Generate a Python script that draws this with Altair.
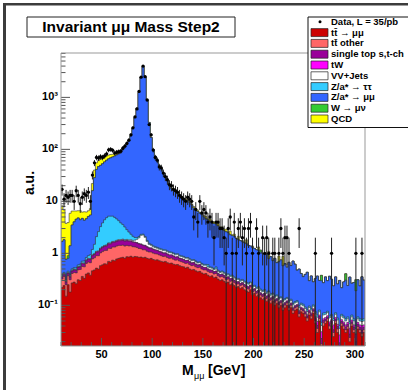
import altair as alt
import pandas as pd
import numpy as np

# ---------------- data (2 GeV bins from 10 to 310 GeV) ----------------
BIN_LOW = 10
BIN_W = 2

tt_mumu = [
    0.22, 0.24, 0.15, 0.25, 0.18, 0.27, 0.28, 0.26, 0.31, 0.30,
    0.36, 0.33, 0.40, 0.42, 0.38, 0.46, 0.48, 0.52, 0.50, 0.58,
    0.60, 0.63, 0.62, 0.70, 0.68, 0.74, 0.72, 0.78, 0.80, 0.82,
    0.84, 0.80, 0.86, 0.85, 0.88, 0.84, 0.87, 0.86, 0.84, 0.85,
    0.82, 0.84, 0.80, 0.78, 0.80, 0.76, 0.74, 0.75, 0.72, 0.70,
    0.68, 0.70, 0.66, 0.64, 0.65, 0.62, 0.60, 0.61, 0.58, 0.56,
    0.55, 0.52, 0.54, 0.50, 0.48, 0.49, 0.46, 0.44, 0.45, 0.42,
    0.40, 0.41, 0.38, 0.36, 0.37, 0.34, 0.35, 0.32, 0.30, 0.31,
    0.29, 0.27, 0.28, 0.25, 0.26, 0.24, 0.22, 0.23, 0.21, 0.22,
    0.20, 0.19, 0.18, 0.20, 0.16, 0.17, 0.15, 0.16, 0.14, 0.13,
    0.14, 0.12, 0.13, 0.11, 0.12, 0.10, 0.11, 0.09, 0.10, 0.08,
    0.09, 0.10, 0.08, 0.09, 0.07, 0.08, 0.085, 0.06, 0.075, 0.07,
    0.06, 0.05, 0.065, 0.055, 0.07, 0.045, 0.03, 0.05, 0.012, 0.04,
    0.045, 0.05, 0.035, 0.04, 0.025, 0.045, 0.03, 0.01, 0.04, 0.035,
    0.03, 0.035, 0.02, 0.04, 0.03, 0.012, 0.035, 0.03, 0.025, 0.03,
]
tt_other = [
    0.10, 0.12, 0.10, 0.12, 0.13, 0.14, 0.15, 0.16, 0.17, 0.19,
    0.20, 0.22, 0.24, 0.26, 0.28, 0.32, 0.34, 0.38, 0.40, 0.44,
    0.48, 0.50, 0.52, 0.55, 0.56, 0.58, 0.60, 0.60, 0.62, 0.60,
    0.60, 0.58, 0.56, 0.54, 0.52, 0.50, 0.46, 0.44, 0.40, 0.38,
    0.35, 0.33, 0.30, 0.28, 0.26, 0.25, 0.24, 0.22, 0.21, 0.20,
    0.19, 0.18, 0.17, 0.16, 0.16, 0.15, 0.14, 0.14, 0.13, 0.13,
    0.12, 0.12, 0.11, 0.11, 0.10, 0.10, 0.09, 0.09, 0.09, 0.08,
    0.08, 0.07, 0.07, 0.07, 0.06, 0.06, 0.06, 0.05, 0.05, 0.05,
    0.05, 0.04, 0.04, 0.04, 0.04, 0.035, 0.035, 0.03, 0.03, 0.03,
    0.03, 0.025, 0.025, 0.025, 0.02, 0.02, 0.02, 0.02, 0.018, 0.018,
    0.016, 0.016, 0.015, 0.015, 0.014, 0.014, 0.013, 0.013, 0.012, 0.012,
    0.011, 0.011, 0.010, 0.010, 0.010, 0.009, 0.009, 0.009, 0.008, 0.008,
    0.008, 0.007, 0.007, 0.007, 0.007, 0.006, 0.006, 0.006, 0.006, 0.006,
    0.005, 0.005, 0.005, 0.005, 0.005, 0.005, 0.005, 0.005, 0.005, 0.005,
    0.004, 0.004, 0.004, 0.004, 0.004, 0.004, 0.004, 0.004, 0.004, 0.004,
]
single_top = [
    0.03, 0.035, 0.03, 0.04, 0.04, 0.045, 0.05, 0.05, 0.055, 0.06,
    0.07, 0.075, 0.08, 0.09, 0.10, 0.12, 0.13, 0.15, 0.17, 0.19,
    0.21, 0.23, 0.25, 0.27, 0.28, 0.30, 0.31, 0.32, 0.33, 0.33,
    0.34, 0.33, 0.33, 0.32, 0.31, 0.30, 0.29, 0.28, 0.27, 0.26,
    0.25, 0.23, 0.22, 0.20, 0.19, 0.18, 0.17, 0.16, 0.15, 0.15,
    0.14, 0.13, 0.13, 0.12, 0.11, 0.11, 0.10, 0.10, 0.09, 0.09,
    0.085, 0.08, 0.08, 0.075, 0.07, 0.07, 0.065, 0.06, 0.06, 0.055,
    0.05, 0.05, 0.045, 0.045, 0.04, 0.04, 0.04, 0.035, 0.035, 0.035,
    0.03, 0.03, 0.03, 0.028, 0.026, 0.025, 0.024, 0.022, 0.02, 0.02,
    0.019, 0.018, 0.017, 0.016, 0.015, 0.015, 0.014, 0.013, 0.013, 0.012,
    0.012, 0.011, 0.011, 0.010, 0.010, 0.009, 0.009, 0.009, 0.008, 0.008,
    0.008, 0.007, 0.007, 0.007, 0.006, 0.006, 0.006, 0.006, 0.005, 0.005,
    0.005, 0.005, 0.005, 0.005, 0.005, 0.005, 0.005, 0.005, 0.005, 0.005,
    0.004, 0.004, 0.004, 0.004, 0.004, 0.004, 0.004, 0.004, 0.004, 0.004,
    0.004, 0.004, 0.004, 0.004, 0.004, 0.004, 0.004, 0.004, 0.004, 0.004,
]
tw = [
    0.005, 0.005, 0.006, 0.006, 0.007, 0.007, 0.008, 0.008, 0.009, 0.010,
    0.011, 0.012, 0.013, 0.014, 0.015, 0.017, 0.018, 0.020, 0.022, 0.024,
    0.026, 0.028, 0.030, 0.032, 0.034, 0.035, 0.036, 0.037, 0.038, 0.038,
    0.038, 0.038, 0.037, 0.036, 0.035, 0.034, 0.033, 0.032, 0.031, 0.030,
    0.029, 0.028, 0.027, 0.026, 0.025, 0.024, 0.023, 0.022, 0.021, 0.020,
    0.019, 0.018, 0.018, 0.017, 0.016, 0.016, 0.015, 0.015, 0.014, 0.014,
    0.013, 0.013, 0.012, 0.012, 0.011, 0.011, 0.010, 0.010, 0.010, 0.009,
    0.009, 0.009, 0.008, 0.008, 0.008, 0.008, 0.007, 0.007, 0.007, 0.007,
    0.007, 0.006, 0.006, 0.012, 0.006, 0.006, 0.006, 0.005, 0.005, 0.005,
    0.005, 0.005, 0.010, 0.005, 0.005, 0.005, 0.004, 0.004, 0.004, 0.004,
    0.004, 0.004, 0.008, 0.004, 0.004, 0.004, 0.004, 0.004, 0.004, 0.004,
    0.004, 0.004, 0.004, 0.004, 0.004, 0.004, 0.004, 0.004, 0.004, 0.004,
    0.004, 0.004, 0.004, 0.004, 0.004, 0.004, 0.008, 0.004, 0.008, 0.004,
    0.004, 0.004, 0.004, 0.004, 0.008, 0.004, 0.004, 0.008, 0.004, 0.004,
    0.004, 0.004, 0.008, 0.004, 0.004, 0.008, 0.004, 0.004, 0.008, 0.004,
]
vv_jets = [
    0.010, 0.010, 0.010, 0.012, 0.012, 0.012, 0.013, 0.013, 0.014, 0.014,
    0.015, 0.016, 0.017, 0.018, 0.020, 0.020, 0.022, 0.024, 0.026, 0.028,
    0.030, 0.032, 0.034, 0.036, 0.038, 0.040, 0.042, 0.045, 0.048, 0.050,
    0.055, 0.060, 0.065, 0.070, 0.080, 0.10, 0.14, 0.25, 0.45, 0.70,
    0.80, 0.60, 0.35, 0.20, 0.15, 0.12, 0.11, 0.10, 0.10, 0.10,
    0.10, 0.09, 0.09, 0.09, 0.08, 0.08, 0.08, 0.08, 0.07, 0.07,
    0.07, 0.07, 0.06, 0.06, 0.06, 0.06, 0.06, 0.05, 0.05, 0.05,
    0.05, 0.05, 0.045, 0.045, 0.04, 0.04, 0.04, 0.04, 0.035, 0.035,
    0.035, 0.03, 0.03, 0.03, 0.03, 0.028, 0.028, 0.026, 0.026, 0.025,
    0.025, 0.024, 0.023, 0.022, 0.022, 0.021, 0.020, 0.020, 0.020, 0.019,
    0.018, 0.018, 0.017, 0.017, 0.016, 0.016, 0.015, 0.015, 0.015, 0.014,
    0.014, 0.013, 0.013, 0.013, 0.012, 0.012, 0.012, 0.011, 0.011, 0.011,
    0.010, 0.010, 0.010, 0.010, 0.010, 0.010, 0.010, 0.010, 0.010, 0.010,
    0.009, 0.009, 0.009, 0.009, 0.009, 0.009, 0.009, 0.009, 0.009, 0.009,
    0.008, 0.008, 0.008, 0.008, 0.008, 0.008, 0.008, 0.008, 0.008, 0.008,
]
z_tautau = [
    0.02, 0.02, 0.02, 0.025, 0.025, 0.03, 0.03, 0.035, 0.04, 0.045,
    0.05, 0.06, 0.08, 0.10, 0.15, 0.25, 0.50, 1.00, 1.50, 2.00,
    2.5, 3.0, 3.4, 3.6, 3.6, 3.5, 3.2, 2.8, 2.4, 2.0,
    1.7, 1.4, 1.0, 0.75, 0.50, 0.35, 0.22, 0.15, 0.12, 0.10,
    0.09, 0.08, 0.07, 0.07, 0.06, 0.06, 0.06, 0.05, 0.05, 0.05,
    0.05, 0.05, 0.045, 0.045, 0.04, 0.04, 0.04, 0.04, 0.035, 0.035,
    0.035, 0.03, 0.03, 0.03, 0.03, 0.028, 0.028, 0.026, 0.026, 0.025,
    0.025, 0.024, 0.06, 0.023, 0.022, 0.022, 0.05, 0.021, 0.02, 0.02,
    0.02, 0.019, 0.018, 0.018, 0.017, 0.017, 0.016, 0.016, 0.015, 0.015,
    0.014, 0.014, 0.013, 0.013, 0.012, 0.012, 0.011, 0.011, 0.010, 0.010,
    0.010, 0.009, 0.009, 0.009, 0.008, 0.008, 0.008, 0.008, 0.007, 0.007,
    0.007, 0.007, 0.007, 0.007, 0.007, 0.007, 0.007, 0.007, 0.007, 0.007,
    0.006, 0.006, 0.006, 0.006, 0.006, 0.006, 0.006, 0.006, 0.006, 0.006,
    0.005, 0.005, 0.005, 0.005, 0.005, 0.005, 0.005, 0.005, 0.005, 0.005,
    0.005, 0.005, 0.005, 0.005, 0.005, 0.005, 0.005, 0.005, 0.005, 0.005,
]
z_mumu = [
    1.3, 1.4, 0.45, 0.35, 1.0, 3.0, 3.5, 4.0, 4.2, 3.8,
    4.0, 3.6, 3.8, 4.2, 4.5, 14.8, 27, 39, 44, 46,
    49, 53, 57, 60.5, 63.5, 66.5, 69.5, 73.5, 78, 84,
    95.5, 109, 125, 145, 180, 256, 406, 617, 1245, 2447,
    3997, 2500, 898, 328, 168, 98, 72, 59, 47, 41,
    33, 27.5, 23.5, 18.5, 16.5, 15, 14.5, 13, 11.8, 10.8,
    10.3, 9.8, 9.6, 8.6, 7.8, 6.7, 6.1, 5.7, 5.2, 4.9,
    4.4, 4.0, 3.8, 3.6, 3.4, 3.2, 3.1, 2.9, 2.6, 2.5,
    2.3, 2.2, 2.1, 1.9, 1.8, 1.8, 1.6, 1.5, 1.45, 1.35,
    1.3, 1.25, 1.15, 1.1, 1.05, 1.0, 0.95, 0.9, 0.85, 0.8,
    0.75, 0.78, 0.6, 0.7, 0.55, 0.65, 0.5, 0.55, 0.6, 0.45,
    0.5, 0.4, 0.55, 0.45, 0.6, 0.5, 0.35, 0.4, 0.3, 0.25,
    0.3, 0.35, 0.2, 0.28, 0.18, 0.25, 0.3, 0.22, 0.25, 0.2,
    0.28, 0.22, 0.3, 0.25, 0.18, 0.28, 0.2, 0.26, 0.15, 0.22,
    0.25, 0.18, 0.3, 0.2, 0.22, 0.15, 0.25, 0.18, 0.3, 0.25,
]
w_munu = [
    0, 0, 0, 0.1, 0, 0, 0, 0, 0, 0,
    0, 0, 0, 0, 0, 0, 0, 0, 0, 0,
    0, 0, 0, 0, 0, 0, 0, 0, 0, 0,
    0, 0, 0, 0, 0, 0, 0, 0, 0, 0,
    0, 0, 0, 0, 0, 0, 0, 0, 0, 0,
    0, 0, 0, 0, 0, 0, 0, 0, 0, 0,
    0, 0, 0, 0, 0, 0, 0, 0, 0, 0,
    0, 0, 0, 0, 0, 0, 0, 0, 0, 0,
    0, 0, 0, 0, 0, 0, 0, 0, 0, 0,
    0, 0, 0, 0, 0, 0, 0, 0, 0.1, 0,
    0, 0, 0, 0, 0, 0, 0, 0, 0, 0,
    0, 0, 0, 0, 0, 0, 0, 0, 0, 0,
    0, 0, 0, 0, 0, 0, 0, 0, 0.08, 0,
    0, 0, 0, 0, 0, 0, 0, 0, 0, 0,
    0.1, 0, 0, 0, 0, 0.12, 0, 0, 0, 0,
]
qcd = [
    6.5, 5.0, 3.0, 3.0, 4.5, 3.0, 2.5, 2.0, 1.8, 2.2,
    1.5, 2.0, 1.6, 1.5, 1.8, 6.0, 11.5, 14, 14, 15,
    14, 13, 13, 12, 11, 9, 8, 6, 5, 4,
    3, 3, 2, 2, 2, 1, 1, 0, 0, 0,
    0, 0, 0, 0, 0, 0, 1, 1, 1, 1,
    1, 0.8, 0.5, 1.0, 0.8, 1.0, 0.5, 0.8, 0.5, 0.6,
    0.4, 0.6, 0.3, 0.5, 0.3, 0.5, 0.3, 0.4, 0.2, 0.3,
    0.3, 0.5, 0.2, 0.4, 0.2, 0.3, 0.2, 0.4, 0.2, 0.3,
    0.2, 0.3, 0.1, 0.4, 0.1, 0.2, 0, 0.3, 0, 0.1,
    0, 0.3, 0, 0, 0.1, 0, 0, 0.2, 0, 0,
    0, 0, 0.3, 0, 0, 0, 0, 0.2, 0, 0.3,
    0, 0, 0, 0, 0, 0, 0, 0, 0, 0,
    0, 0, 0, 0, 0, 0, 0, 0, 0, 0,
    0, 0, 0, 0, 0, 0, 0, 0, 0, 0,
    0, 0, 0, 0, 0, 0, 0, 0, 0, 0,
]
data_counts = [
    17, 11, 13, 12, 13, 13, 10, 16, 13, 9,
    12, 14, 13, 15, 10, 32, 55, 70, 68, 72,
    70, 75, 82, 98, 100, 96, 85, 88, 90, 92,
    105, 115, 130, 150, 190, 260, 420, 600, 1300, 2450,
    4000, 2500, 890, 300, 190, 97, 70, 62, 46, 44,
    35, 30, 26, 21, 20, 17, 16, 15, 13, 12,
    11, 10, 12, 11, 10, 5, 7, 4, 10, 6,
    7, 6, 4, 5, 4, 2, 4, 4, 3, 3,
    2, 1, 3, 5, 1, 4, 1, 3, 4, 2,
    3, 1, 3, 4, 1, 0, 3, 1, 0, 2,
    1, 2, 1, 0, 1, 1, 0, 1, 3, 1,
    2, 2, 1, 0, 0, 0, 0, 3, 0, 0,
    0, 0, 0, 0, 0, 1, 0, 0, 0, 0,
    0, 0, 0, 1, 0, 0, 0, 0, 0, 0,
    0, 0, 0, 0, 0, 1, 0, 0, 1, 0,
]

layer_names = ["tt̄ → μμ", "tt̄ other", "single top s,t-ch", "tW", "VV+Jets",
               "Z/a* → ττ", "Z/a* → μμ", "W → μν", "QCD"]
layer_colors = ["#cc0000", "#ff6666", "#990099", "#ff00ff", "#ffffff",
                "#33ccff", "#3366ff", "#33cc33", "#ffff00"]
data_label = "Data, L = 35/pb"
title_text = "Invariant μμ Mass Step2"
x_tick_labels = [50, 100, 150, 200, 250, 300]
y_tick_values = [0.1, 1, 10, 100, 1000]
y_tick_texts = ["10⁻¹", "1", "10", "10²", "10³"]

# ---------------- layout ----------------
W, H = 304, 293
PAD = {"left": 61, "top": 53, "right": 43, "bottom": 44}
XMIN, XMAX = 10, 310
YMIN, YMAX = 0.0165, 7140
FONT = "Liberation Sans"

comps = np.array([tt_mumu, tt_other, single_top, tw, vv_jets, z_tautau,
                  z_mumu, w_munu, qcd], dtype=float)
cum = np.cumsum(comps, axis=0)
nb = comps.shape[1]
edges = [BIN_LOW + BIN_W * i for i in range(nb + 1)]

xs = alt.Scale(domain=[XMIN, XMAX], nice=False, zero=False)
ys = alt.Scale(type="log", domain=[YMIN, YMAX], nice=False)
XE = dict(scale=xs, axis=None)
YE = dict(scale=ys, axis=None)

layers = []
for k in reversed(range(len(layer_names))):
    vals = list(cum[k]) + [cum[k][-1]]
    dfk = pd.DataFrame({"x": edges, "y": vals, "base": [YMIN] * len(edges)})
    layers.append(
        alt.Chart(dfk).mark_area(interpolate="step-after", fill=layer_colors[k], fillOpacity=1,
                                 stroke="#333333", strokeWidth=0.6, clip=True)
        .encode(x=alt.X("x:Q", **XE), y=alt.Y("y:Q", **YE), y2=alt.Y2("base:Q"))
    )

# ticks (ROOT style, inside the frame)
xt_major = [v for v in range(XMIN, XMAX + 1, 10) if v % 50 == 0]
xt_minor = [v for v in range(XMIN, XMAX + 1, 10) if v % 50 != 0]
layers.append(alt.Chart(pd.DataFrame({"x": xt_major})).mark_rule(color="#555", strokeWidth=1)
              .encode(x=alt.X("x:Q", **XE), y=alt.value(H), y2=alt.value(H - 8)))
layers.append(alt.Chart(pd.DataFrame({"x": xt_minor})).mark_rule(color="#555", strokeWidth=1)
              .encode(x=alt.X("x:Q", **XE), y=alt.value(H), y2=alt.value(H - 4)))
yt_minor = []
for dec in [0.01, 0.1, 1, 10, 100, 1000]:
    for m in range(2, 10):
        v = dec * m
        if YMIN <= v <= YMAX:
            yt_minor.append(v)
layers.append(alt.Chart(pd.DataFrame({"y": y_tick_values})).mark_rule(color="#555", strokeWidth=1)
              .encode(y=alt.Y("y:Q", **YE), x=alt.value(0), x2=alt.value(9)))
layers.append(alt.Chart(pd.DataFrame({"y": yt_minor})).mark_rule(color="#555", strokeWidth=1)
              .encode(y=alt.Y("y:Q", **YE), x=alt.value(0), x2=alt.value(4.5)))

# tick labels
layers.append(alt.Chart(pd.DataFrame({"x": x_tick_labels, "t": [str(v) for v in x_tick_labels]}))
              .mark_text(font=FONT, fontWeight="bold", fontSize=11, baseline="alphabetic",
                         align="center", color="black")
              .encode(x=alt.X("x:Q", **XE), y=alt.value(H + 12), text="t:N"))
layers.append(alt.Chart(pd.DataFrame({"y": y_tick_values, "t": y_tick_texts}))
              .mark_text(font=FONT, fontWeight="bold", fontSize=11, baseline="middle",
                         align="right", color="black")
              .encode(y=alt.Y("y:Q", **YE), x=alt.value(-3), text="t:N"))

# data points with error bars
d = np.array(data_counts, dtype=float)
mask = d > 0
centers = np.array([BIN_LOW + BIN_W * i + BIN_W / 2 for i in range(nb)])
ddf = pd.DataFrame({"x": centers[mask], "y": d[mask]})
ddf["lo"] = np.maximum(ddf["y"] - np.sqrt(ddf["y"]), YMIN)
ddf["hi"] = ddf["y"] + np.sqrt(ddf["y"])
layers.append(alt.Chart(ddf).mark_rule(color="#222", strokeWidth=1, clip=True)
              .encode(x=alt.X("x:Q", **XE), y=alt.Y("lo:Q", **YE), y2="hi:Q"))
layers.append(alt.Chart(ddf).mark_circle(color="black", size=11, opacity=1, clip=True)
              .encode(x=alt.X("x:Q", **XE), y=alt.Y("y:Q", **YE)))

one = pd.DataFrame({"a": [0]})
L, T = PAD["left"], PAD["top"]

# frame lines
for enc in [dict(x=alt.value(0), x2=alt.value(W), y=alt.value(0)),
            dict(x=alt.value(W), y=alt.value(0), y2=alt.value(H)),
            dict(x=alt.value(0), x2=alt.value(W), y=alt.value(H)),
            dict(x=alt.value(0), y=alt.value(0), y2=alt.value(H))]:
    layers.append(alt.Chart(one).mark_rule(color="#999", strokeWidth=1).encode(**enc))

# canvas border (left, top)
layers.append(alt.Chart(one).mark_rule(color="#3c3c3c", strokeWidth=3)
              .encode(x=alt.value(4.5 - L), y=alt.value(3 - T), y2=alt.value(390 - T)))
layers.append(alt.Chart(one).mark_rule(color="#3c3c3c", strokeWidth=2.5)
              .encode(x=alt.value(3 - L), x2=alt.value(408 - L), y=alt.value(4.2 - T)))

# title box
layers.append(alt.Chart(one).mark_rect(fill="white", stroke="#222", strokeWidth=1)
              .encode(x=alt.value(27 - L), x2=alt.value(235 - L), y=alt.value(17 - T), y2=alt.value(37 - T)))
layers.append(alt.Chart(one).mark_text(text=title_text, font=FONT, fontWeight="bold", fontSize=15.5,
                                       align="center", baseline="alphabetic", color="black")
              .encode(x=alt.value(131 - L), y=alt.value(32 - T)))

# legend
layers.append(alt.Chart(one).mark_rect(fill="white", stroke="#111", strokeWidth=1)
              .encode(x=alt.value(308 - L), x2=alt.value(430 - L), y=alt.value(17 - T), y2=alt.value(127.5 - T)))
row0, dy = 21.8, 10.8
layers.append(alt.Chart(one).mark_circle(color="black", size=9, opacity=1)
              .encode(x=alt.value(320 - L), y=alt.value(row0 - T)))
layers.append(alt.Chart(one).mark_text(text=data_label, font=FONT, fontWeight="bold", fontSize=9.5,
                                       align="left", baseline="middle", color="black")
              .encode(x=alt.value(331 - L), y=alt.value(row0 - T)))
for k, (nm, col) in enumerate(zip(layer_names, layer_colors)):
    yc = row0 + dy * (k + 1)
    layers.append(alt.Chart(one).mark_rect(fill=col, stroke="#222", strokeWidth=0.7)
                  .encode(x=alt.value(311 - L), x2=alt.value(328 - L),
                          y=alt.value(yc - 4 - T), y2=alt.value(yc + 4 - T)))
    layers.append(alt.Chart(one).mark_text(text=nm, font=FONT, fontWeight="bold", fontSize=9.5,
                                           align="left", baseline="middle", color="black")
                  .encode(x=alt.value(331 - L), y=alt.value(yc - T)))

# axis titles
layers.append(alt.Chart(one).mark_text(text="a.u.", font=FONT, fontWeight="bold", fontSize=14,
                                       angle=270, align="center", baseline="middle", color="black")
              .encode(x=alt.value(30 - L), y=alt.value(183 - T)))
layers.append(alt.Chart(one).mark_text(text="M", font=FONT, fontWeight="bold", fontSize=14,
                                       align="left", baseline="alphabetic", color="black")
              .encode(x=alt.value(182 - L), y=alt.value(375 - T)))
layers.append(alt.Chart(one).mark_text(text="μμ", font=FONT, fontSize=9,
                                       align="left", baseline="alphabetic", color="black")
              .encode(x=alt.value(194 - L), y=alt.value(379 - T)))
layers.append(alt.Chart(one).mark_text(text="[GeV]", font=FONT, fontWeight="bold", fontSize=14,
                                       align="left", baseline="alphabetic", color="black")
              .encode(x=alt.value(208 - L), y=alt.value(375 - T)))

chart = alt.layer(*layers).properties(
    width=W, height=H, padding=PAD, autosize=alt.AutoSizeParams(type="none"),
    background="white"
).configure_view(stroke=None)

chart.save("out.html", embed_options={"renderer": "svg", "actions": False})
